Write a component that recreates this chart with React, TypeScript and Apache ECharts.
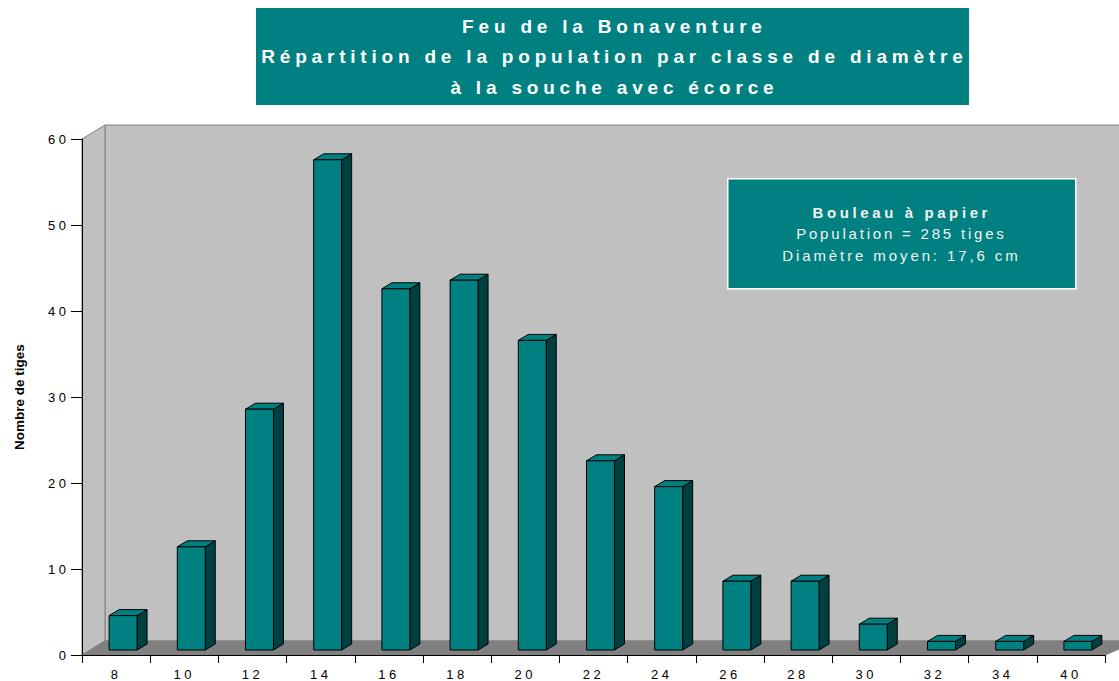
import React, { useEffect, useRef } from 'react';
import * as echarts from 'echarts';

const categories = ['8', '10', '12', '14', '16', '18', '20', '22', '24', '26', '28', '30', '32', '34', '40'];
const counts = [4, 12, 28, 57, 42, 43, 36, 22, 19, 8, 8, 3, 1, 1, 1];
const yMin = 0;
const yMax = 60;
const yInterval = 10;
const titleLines = [
  'Feu de la Bonaventure',
  'Répartition de la population par classe de diamètre',
  'à la souche avec écorce',
];
const noteLines = ['Bouleau à papier', 'Population = 285 tiges', 'Diamètre moyen: 17,6 cm'];
const yAxisName = 'Nombre de tiges';

const FONT = '"Liberation Sans", Arial, Helvetica, sans-serif';
const TEAL = '#008080';
const TEAL_DARK = '#004040';
const WALL = '#C0C0C0';
const FLOOR = '#808080';
const DEPTH_X = 23;
const DEPTH_Y = -14;

const TITLE_LS = 4.8;
const NOTE_LS = [3.6, 2.8, 2.9];
const TICK_LS = 3.5;

export default function App() {
  const ref = useRef<HTMLDivElement>(null);

  useEffect(() => {
    const el = ref.current!;
    const chart = echarts.init(el, undefined, { renderer: 'svg' });

    const option: any = {
      animation: false,
      backgroundColor: '#ffffff',
      grid: { left: 82, right: 14, top: 139, bottom: 26, containLabel: false },
      xAxis: {
        type: 'category',
        data: categories,
        z: 5,
        axisLine: { show: true, lineStyle: { color: '#000', width: 1 } },
        axisTick: { show: true, alignWithLabel: false, interval: 0, length: 8, lineStyle: { color: '#000' } },
        axisLabel: { color: '#000', fontFamily: FONT, fontSize: 13, margin: 13, interval: 0 },
        splitLine: { show: false },
      },
      yAxis: {
        type: 'value',
        min: yMin,
        max: yMax,
        interval: yInterval,
        z: 5,
        name: yAxisName,
        nameLocation: 'middle',
        nameGap: 56,
        nameTextStyle: { color: '#000', fontFamily: FONT, fontSize: 13.5, fontWeight: 'bold' },
        axisLine: { show: true, lineStyle: { color: '#000', width: 1 } },
        axisTick: { show: true, length: 11, lineStyle: { color: '#000' } },
        axisLabel: { color: '#000', fontFamily: FONT, fontSize: 13, margin: 16 - TICK_LS },
        splitLine: { show: false },
      },
      series: [
        {
          type: 'custom',
          name: 'walls',
          z: 1,
          clip: false,
          silent: true,
          data: [0],
          renderItem: (params: any) => {
            const cs = params.coordSys;
            const x0 = cs.x, y0 = cs.y, w = cs.width, h = cs.height;
            const x1 = x0 + w, y1 = y0 + h;
            return {
              type: 'group',
              children: [
                {
                  type: 'rect',
                  shape: { x: x0 + DEPTH_X, y: y0 + DEPTH_Y, width: w + 10, height: h },
                  style: { fill: WALL, stroke: FLOOR, lineWidth: 1 },
                },
                {
                  type: 'polygon',
                  shape: { points: [[x0, y0], [x0 + DEPTH_X, y0 + DEPTH_Y], [x0 + DEPTH_X, y1 + DEPTH_Y], [x0, y1]] },
                  style: { fill: WALL, stroke: FLOOR, lineWidth: 1 },
                },
                {
                  type: 'polygon',
                  shape: { points: [[x0, y1], [x0 + DEPTH_X, y1 + DEPTH_Y], [x1 + DEPTH_X + 10, y1 + DEPTH_Y], [x1, y1]] },
                  style: { fill: FLOOR, stroke: FLOOR, lineWidth: 1 },
                },
              ],
            };
          },
        },
        {
          type: 'custom',
          name: 'Nombre de tiges',
          z: 2,
          clip: false,
          data: counts.map((v, i) => [i, v]),
          encode: { x: 0, y: 1 },
          renderItem: (params: any, api: any) => {
            const i = api.value(0);
            const v = api.value(1);
            const base = api.coord([i, 0]);
            const top = api.coord([i, v]);
            const bw = api.size([1, 0])[0];
            const w = bw * 0.41;
            const sx = 8, sy = -5; // bar sits mid-depth of the floor
            const dx = 10, dy = -6; // bar depth
            const xl = base[0] - bw * 0.22 + sx;
            const xr = xl + w;
            const yb = base[1] + sy;
            const yt = top[1] + sy;
            const stroke = { stroke: '#000', lineWidth: 1 };
            return {
              type: 'group',
              children: [
                {
                  type: 'polygon',
                  shape: { points: [[xr, yt], [xr + dx, yt + dy], [xr + dx, yb + dy], [xr, yb]] },
                  style: { fill: TEAL_DARK, ...stroke },
                },
                {
                  type: 'polygon',
                  shape: { points: [[xl, yt], [xl + dx, yt + dy], [xr + dx, yt + dy], [xr, yt]] },
                  style: { fill: TEAL, ...stroke },
                },
                {
                  type: 'rect',
                  shape: { x: xl, y: yt, width: w, height: yb - yt },
                  style: { fill: TEAL, ...stroke },
                },
              ],
            };
          },
        },
      ],
      graphic: [
        {
          type: 'rect',
          left: 256,
          top: 8,
          shape: { width: 713, height: 97 },
          style: { fill: TEAL },
          z: 10,
        },
        ...titleLines.map((t, k) => ({
          type: 'text',
          x: 612 + TITLE_LS / 2,
          y: [26, 56.5, 87][k],
          z: 11,
          style: {
            text: t,
            fill: '#ffffff',
            font: `bold 19px ${FONT}`,
            textAlign: 'center',
            textVerticalAlign: 'middle',
          },
        })),
        {
          type: 'rect',
          left: 727,
          top: 178,
          shape: { width: 348, height: 110 },
          style: { fill: TEAL, stroke: '#ffffff', lineWidth: 1.5 },
          z: 10,
        },
        ...noteLines.map((t, k) => ({
          type: 'text',
          x: 900 + NOTE_LS[k] / 2,
          y: [212, 233, 255][k],
          z: 11,
          style: {
            text: t,
            fill: '#f2f2f2',
            font: `${k === 0 ? 'bold ' : ''}15px ${FONT}`,
            textAlign: 'center',
            textVerticalAlign: 'middle',
          },
        })),
      ],
    };

    chart.setOption(option);

    const applySpacing = () => {
      el.querySelectorAll('text').forEach((t) => {
        const s = (t.textContent || '').trim();
        let ls = 0;
        if (titleLines.includes(s)) ls = TITLE_LS;
        else if (noteLines.includes(s)) ls = NOTE_LS[noteLines.indexOf(s)];
        else if (/^\d+$/.test(s)) ls = TICK_LS;
        if (ls) (t as SVGTextElement).style.letterSpacing = ls + 'px';
      });
    };
    applySpacing();
    chart.on('finished', applySpacing);

    return () => {
      chart.dispose();
    };
  }, []);

  return (
    <div
      ref={ref}
      style={{ position: 'fixed', left: 0, top: 0, width: 1119, height: 681, background: '#fff' }}
    />
  );
}
